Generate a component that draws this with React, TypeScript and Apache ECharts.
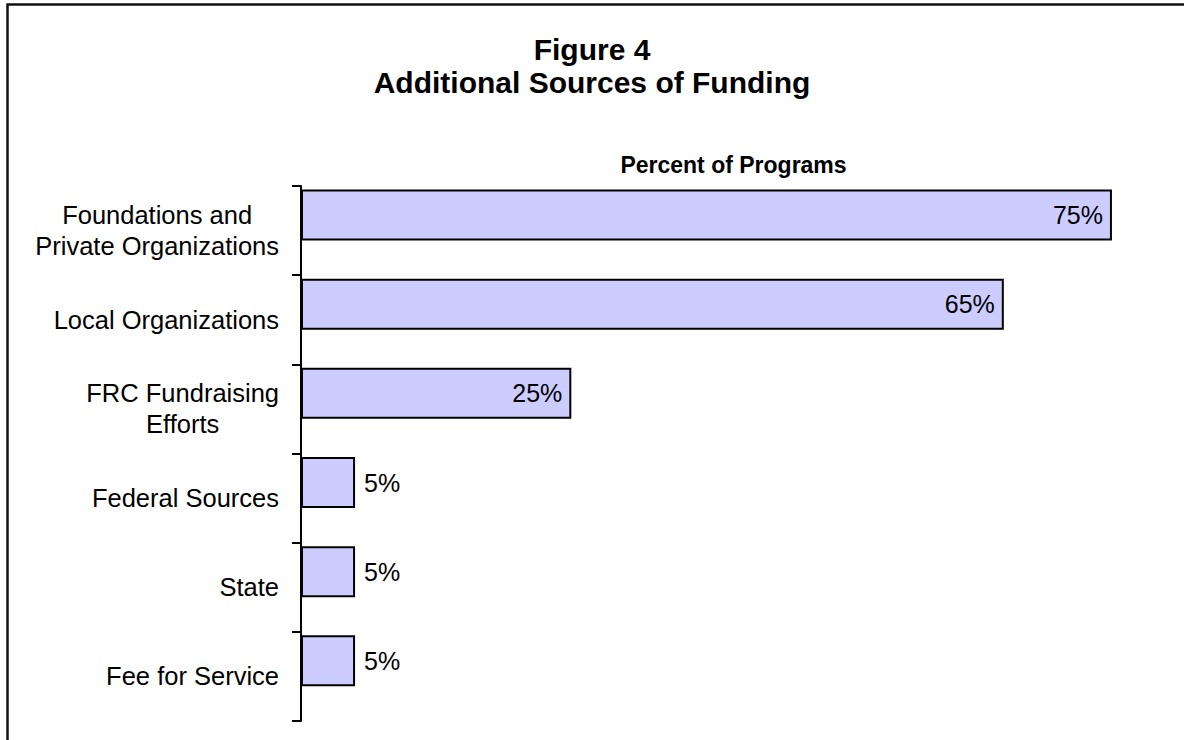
import React, { useEffect, useRef } from "react";
import * as echarts from "echarts";

const categories = [
  "Foundations and\nPrivate Organizations",
  "Local Organizations",
  "FRC Fundraising\nEfforts",
  "Federal Sources",
  "State",
  "Fee for Service",
];
const values = [75, 65, 25, 5, 5, 5];
const titleText = "Figure 4\nAdditional Sources of Funding";
const axisTitle = "Percent of Programs";

const FONT = "'Liberation Sans', Arial, Helvetica, sans-serif";

export default function App() {
  const ref = useRef<HTMLDivElement>(null);
  useEffect(() => {
    if (!ref.current) return;
    const chart = echarts.init(ref.current, null, { renderer: "svg" });
    chart.setOption({
      animation: false,
      backgroundColor: "#ffffff",
      title: {
        text: titleText,
        left: "center",
        top: 28,
        textStyle: {
          fontFamily: FONT,
          fontSize: 30,
          fontWeight: "bold",
          lineHeight: 33,
          color: "#000",
        },
      },
      graphic: [
        {
          type: "polyline",
          shape: { points: [[7.5, 740], [7.5, 4.5], [1184, 4.5]] },
          style: { stroke: "#111", lineWidth: 2.5, fill: "none" },
          silent: true,
        },
      ],
      grid: { left: 301, right: 18, top: 186, bottom: 19, containLabel: false },
      xAxis: {
        type: "value",
        min: 0,
        max: 80,
        position: "top",
        axisLine: { show: false },
        axisTick: { show: false },
        axisLabel: { show: false },
        splitLine: { show: false },
        name: axisTitle,
        nameLocation: "middle",
        nameGap: 10,
        nameTextStyle: {
          fontFamily: FONT,
          fontSize: 23,
          fontWeight: "bold",
          color: "#000",
        },
      },
      yAxis: {
        type: "category",
        inverse: true,
        data: categories,
        axisLine: { show: true, lineStyle: { color: "#000", width: 2 } },
        axisTick: {
          show: true,
          inside: false,
          length: 9,
          lineStyle: { color: "#000", width: 2 },
        },
        splitLine: { show: false },
        axisLabel: {
          margin: 22,
          formatter: (v: string) =>
            v
              .split("\n")
              .map((l) => `{c|${l}}`)
              .join("\n"),
          rich: {
            c: {
              align: "center",
              fontFamily: FONT,
              fontSize: 25.5,
              lineHeight: 31,
              color: "#000",
            },
          },
        },
      },
      series: [
        {
          type: "bar",
          barWidth: 51,
          barGap: "-39%",
          data: values.map((v) => ({
            value: v,
            label: { position: v >= 20 ? "insideRight" : "right" },
          })),
          itemStyle: { color: "#CCCCFF", borderColor: "#000", borderWidth: 2 },
          label: {
            show: true,
            formatter: "{c}%",
            distance: 9,
            fontFamily: FONT,
            fontSize: 25,
            color: "#000",
          },
        },
        {
          type: "bar",
          barWidth: 51,
          barGap: "-39%",
          silent: true,
          data: values.map(() => null),
        },
      ],
    });
    return () => chart.dispose();
  }, []);
  return (
    <div
      ref={ref}
      style={{ position: "fixed", left: 0, top: 0, width: 1184, height: 740 }}
    />
  );
}
